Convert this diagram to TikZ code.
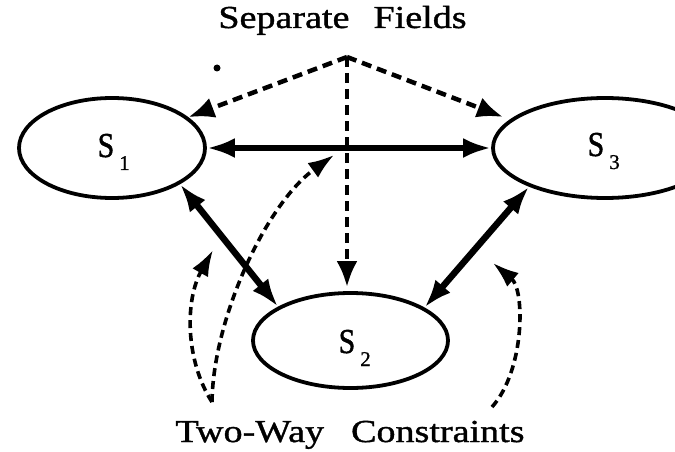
\documentclass[tikz,border=0pt]{standalone}
\usepackage{fontspec}
\setmainfont{Liberation Serif}
\newfontfamily\capfont[FakeStretch=1.19,FakeBold=1.2]{Liberation Serif}
\newfontfamily\labfont[FakeStretch=0.85,FakeBold=1.2]{Liberation Serif}
\newfontfamily\subfont[FakeBold=1]{Liberation Serif}
\usetikzlibrary{shapes.geometric,arrows.meta}
\newcommand\labS[1]{{\labfont\fontsize{35}{35}\selectfont S}\hspace{5pt}\raisebox{-13pt}{\subfont\fontsize{21}{21}\selectfont #1}}
\begin{document}
\begin{tikzpicture}[x=1pt,y=-1pt,
  state/.style={ellipse, draw, line width=3.8pt, inner sep=0pt},
  thickarrow/.style={line width=6.5pt, {Latex[length=28pt,width=20pt]}-{Latex[length=28pt,width=20pt]}},
  field/.style={line width=4.5pt, dash pattern=on 10pt off 6pt, -{Latex[length=26pt,width=21pt]}},
  constraint/.style={line width=3.6pt, dash pattern=on 8pt off 5pt, -{Latex[length=26pt,width=18pt]}},
  caption/.style={font=\capfont\fontsize{32}{32}\selectfont, anchor=base, inner sep=0pt},
  lab/.style={anchor=base west, inner sep=0pt}]
\useasboundingbox (0,0) rectangle (675,452);
\clip (0,0) rectangle (675,452);
% states
\node[state, minimum width=186pt, minimum height=100pt] (s1) at (112,148) {};
\node[state, minimum width=195pt, minimum height=95pt] (s2) at (350.5,340.5) {};
\node[state, minimum width=224pt, minimum height=100pt] (s3) at (605,148) {};
\node[lab] (l1) at (97.5,157) {\labS{1}};
\node[lab] (l2) at (338.5,353) {\labS{2}};
\node[lab] (l3) at (587.5,156) {\labS{3}};
% captions
\node[caption] (top) at (342.5,28) {Separate\hspace{24pt}Fields};
\node[caption] (bottom) at (350,442) {Two-Way\hspace{27pt}Constraints};
\node[circle, fill, inner sep=0pt, minimum size=7pt] (dot) at (217,68) {};
% coordinates
\coordinate (apex) at (347,57);
\coordinate (f3) at (503,117);
\coordinate (c0) at (212,402);
\coordinate (cA) at (213,250);
\coordinate (cB) at (334,155);
\coordinate (cC0) at (492,407);
\coordinate (cC) at (493,263);
% two-way constraints (thick)
\draw[thickarrow] (s1.east) -- (s3.west);
\draw[thickarrow] (s1.-28) -- (s2.155);
\draw[thickarrow] (s3.-153) -- (s2.24);
% separate fields (dashed)
\draw[field] (apex) -- (s1.22);
\draw[field] (apex) -- (f3);
\draw[field, shorten >=4pt] (apex) -- (apex |- s2.north);
% curved dashed
\draw[constraint] (c0) .. controls (185,360) and (185,300) .. (cA);
\draw[constraint] (c0) .. controls (213,320) and (265,205) .. (cB);
\draw[constraint] (cC0) .. controls (525,370) and (525,290) .. (cC);
\end{tikzpicture}
\end{document}
